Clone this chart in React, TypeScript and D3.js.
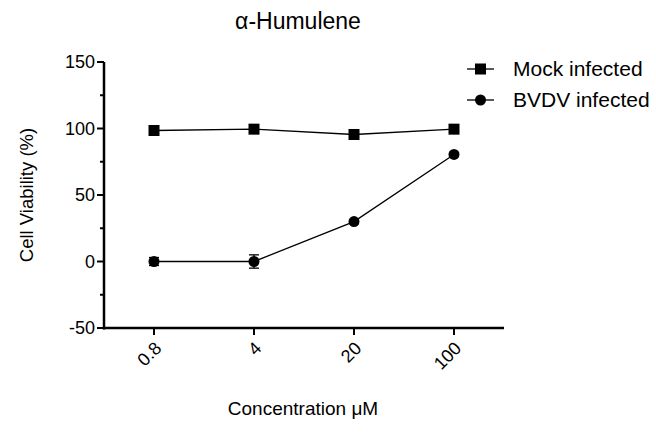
import React from "react";
import * as d3 from "d3";

const categories = ["0.8", "4", "20", "100"];
const mockValues = [98.5, 99.5, 95.5, 99.5];
const mockErrors = [1, 1, 1.5, 1];
const bvdvValues = [0, 0, 30, 80.5];
const bvdvErrors = [3, 5, 1.5, 1.5];
const yTicks = [-50, 0, 50, 100, 150];
const yMinorTicks = [-25, 25, 75, 125];

const W = 656, H = 434;
const FONT = "'Liberation Sans', Arial, sans-serif";

export default function App() {
  const x = d3.scalePoint<string>().domain(categories).range([104, 504]).padding(0.5);
  const y = d3.scaleLinear().domain([-50, 150]).range([328, 62]);
  const line = d3.line<number>().x((_, i) => x(categories[i])!).y((d) => y(d));

  const errBar = (vals: number[], errs: number[], key: string) =>
    vals.map((v, i) => {
      const cx = x(categories[i])!;
      const y1 = y(v + errs[i]), y2 = y(v - errs[i]);
      return (
        <g key={key + i} stroke="#000" strokeWidth={1.3}>
          <line x1={cx} x2={cx} y1={y1} y2={y2} />
          <line x1={cx - 5} x2={cx + 5} y1={y1} y2={y1} />
          <line x1={cx - 5} x2={cx + 5} y1={y2} y2={y2} />
        </g>
      );
    });

  return (
    <svg width={W} height={H} style={{ position: "absolute", left: 0, top: 0, background: "#fff" }} fontFamily={FONT}>
      <rect width={W} height={H} fill="#fff" />
      <text x={298} y={29} textAnchor="middle" fontSize={23}>α-Humulene</text>
      {/* y axis */}
      <line x1={104} x2={104} y1={y(150)} y2={y(-50) + 1.5} stroke="#000" strokeWidth={2.5} />
      {yTicks.map((t) => (
        <g key={"yt" + t}>
          <line x1={97} x2={104} y1={y(t)} y2={y(t)} stroke="#000" strokeWidth={2} />
          <text x={95} y={y(t)} dy="0.35em" textAnchor="end" fontSize={18}>{t}</text>
        </g>
      ))}
      {yMinorTicks.map((t) => (
        <line key={"ym" + t} x1={100} x2={104} y1={y(t)} y2={y(t)} stroke="#000" strokeWidth={2} />
      ))}
      {/* x axis */}
      <line x1={103} x2={504} y1={328} y2={328} stroke="#000" strokeWidth={2.5} />
      {categories.map((c) => (
        <g key={"xt" + c}>
          <line x1={x(c)} x2={x(c)} y1={328} y2={335} stroke="#000" strokeWidth={2} />
          <text transform={`translate(${x(c)! + 4},${345}) rotate(-45)`} textAnchor="end" dy="0.35em" fontSize={18}>{c}</text>
        </g>
      ))}
      <text transform={`translate(33,195) rotate(-90)`} textAnchor="middle" fontSize={18.5}>Cell Viability (%)</text>
      <text x={303} y={415} textAnchor="middle" fontSize={19}>Concentration μM</text>
      {/* series */}
      <path d={line(mockValues)!} fill="none" stroke="#000" strokeWidth={1.3} />
      <path d={line(bvdvValues)!} fill="none" stroke="#000" strokeWidth={1.3} />
      {errBar(mockValues, mockErrors, "me")}
      {errBar(bvdvValues, bvdvErrors, "be")}
      {mockValues.map((v, i) => (
        <rect key={"m" + i} x={x(categories[i])! - 5.5} y={y(v) - 5.5} width={11} height={11} fill="#000" />
      ))}
      {bvdvValues.map((v, i) => (
        <circle key={"b" + i} cx={x(categories[i])!} cy={y(v)} r={5.5} fill="#000" />
      ))}
      {/* legend */}
      <g>
        <line x1={467} x2={494} y1={69} y2={69} stroke="#000" strokeWidth={1.3} />
        <rect x={475} y={63.5} width={11} height={11} fill="#000" />
        <text x={513} y={69} dy="0.35em" fontSize={21}>Mock infected</text>
        <line x1={467} x2={494} y1={100} y2={100} stroke="#000" strokeWidth={1.3} />
        <circle cx={480.5} cy={100} r={5.5} fill="#000" />
        <text x={513} y={100} dy="0.35em" fontSize={21}>BVDV infected</text>
      </g>
    </svg>
  );
}
